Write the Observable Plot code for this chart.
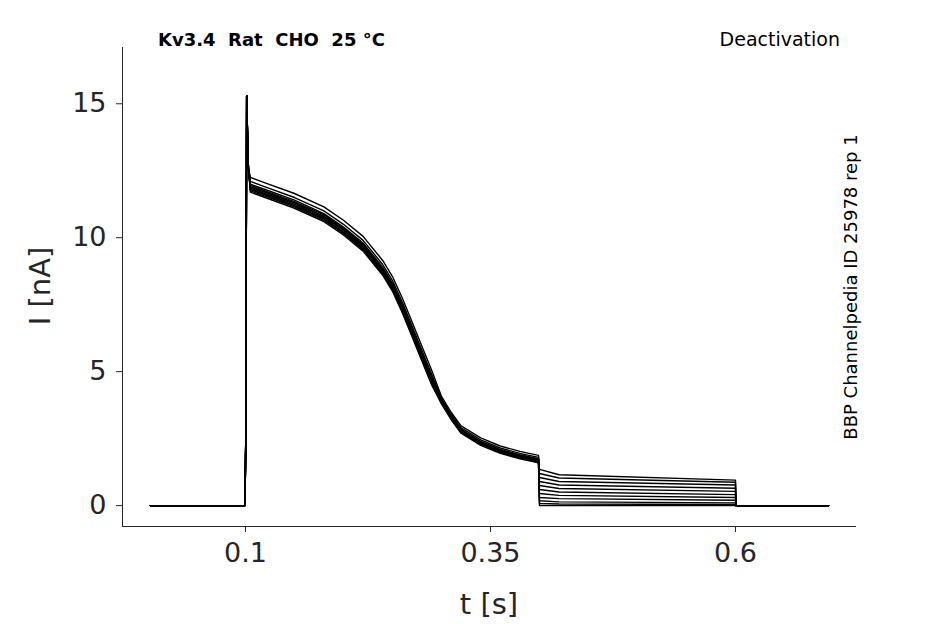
<!DOCTYPE html>
<html><head><meta charset="utf-8">
<script src="https://cdn.jsdelivr.net/npm/d3@7"></script>
<script src="https://cdn.jsdelivr.net/npm/@observablehq/plot@0.6"></script>
<style>body{margin:0;background:#fff}</style>
</head><body><div id="c"></div>
<script>
// main pulse envelope (time s, current nA)
const pulseT = [0.003,0.0995,0.1003,0.1012,0.102,0.103,0.105,0.12,0.15,0.18,0.2,0.22,0.24,0.25,0.26,0.27,0.28,0.29,0.3,0.31,0.32,0.34,0.36,0.38,0.399];
const pulseI = [0,0,2.5,15.3,14.0,12.6,11.9,11.7,11.3,10.8,10.3,9.7,8.8,8.2,7.4,6.5,5.6,4.7,3.9,3.3,2.8,2.35,2.05,1.85,1.7];
// per-sweep offset during pulse (nA)
const sweepOffset = [0.35,0.2,0.1,0.05,0,-0.05,-0.1,-0.15,-0.1,-0.2,0];
// tail current at 0.4 s, 0.42 s and 0.6 s per sweep
const tailStart = [1.35,1.2,1.05,0.9,0.75,0.6,0.45,0.3,0.18,0.08,0.0];
const tailMid   = [1.15,1.03,0.9,0.77,0.64,0.51,0.38,0.26,0.14,0.06,0.0];
const tailEnd   = [0.95,0.87,0.77,0.65,0.53,0.41,0.3,0.2,0.1,0.04,0.0];

const rows = [];
sweepOffset.forEach((off,k)=>{
  pulseT.forEach((t,i)=>{
    const o = t>0.104 ? off*(t<0.3?1:0.5) : 0;
    rows.push({k,t,I:pulseI[i]+o});
  });
  rows.push({k,t:0.4,I:tailStart[k]});
  rows.push({k,t:0.42,I:tailMid[k]});
  rows.push({k,t:0.6,I:tailEnd[k]});
  rows.push({k,t:0.6005,I:0});
  rows.push({k,t:0.695,I:0});
});

const plot = Plot.plot({
  width:945,height:624,
  marginLeft:122,marginRight:89,marginTop:47,marginBottom:98,
  style:{fontFamily:"DejaVu Sans",color:"#262626",background:"#fff"},
  x:{domain:[-0.0255,0.7235],label:null},
  y:{domain:[-0.78,17.1],label:null},
  marks:[
    Plot.axisX({ticks:[0.1,0.35,0.6],tickFormat:d=>String(d),fontSize:27,tickSize:6,tickPadding:10,label:null}),
    Plot.axisY({ticks:[0,5,10,15],fontSize:27,tickSize:6,tickPadding:10,label:null}),
    Plot.ruleY([-0.78],{stroke:"#262626"}),
    Plot.ruleX([-0.0255],{stroke:"#262626"}),
    Plot.line(rows,{x:"t",y:"I",z:"k",stroke:"#000",strokeWidth:1.4})
  ]
});
document.getElementById("c").append(plot);
const svg = d3.select(plot);
const txt=(x,y,s,o={})=>{const t=svg.append("text").attr("x",x).attr("y",y).text(s)
  .attr("font-family","DejaVu Sans").attr("fill",o.fill||"#000").attr("font-size",o.size||20)
  .attr("text-anchor",o.anchor||"start").attr("font-weight",o.weight||"normal");
  if(o.rot) t.attr("transform",`rotate(${o.rot},${x},${y})`);return t;};
txt(158,46,"Kv3.4  Rat  CHO  25 °C",{weight:"bold",size:18});
txt(840,46,"Deactivation",{anchor:"end",size:19});
txt(857,287,"BBP Channelpedia ID 25978 rep 1",{anchor:"middle",size:18,rot:-90});
txt(489,614,"t [s]",{anchor:"middle",size:29,fill:"#262626"});
txt(50,286,"I [nA]",{anchor:"middle",size:29,fill:"#262626",rot:-90});
</script></body></html>
